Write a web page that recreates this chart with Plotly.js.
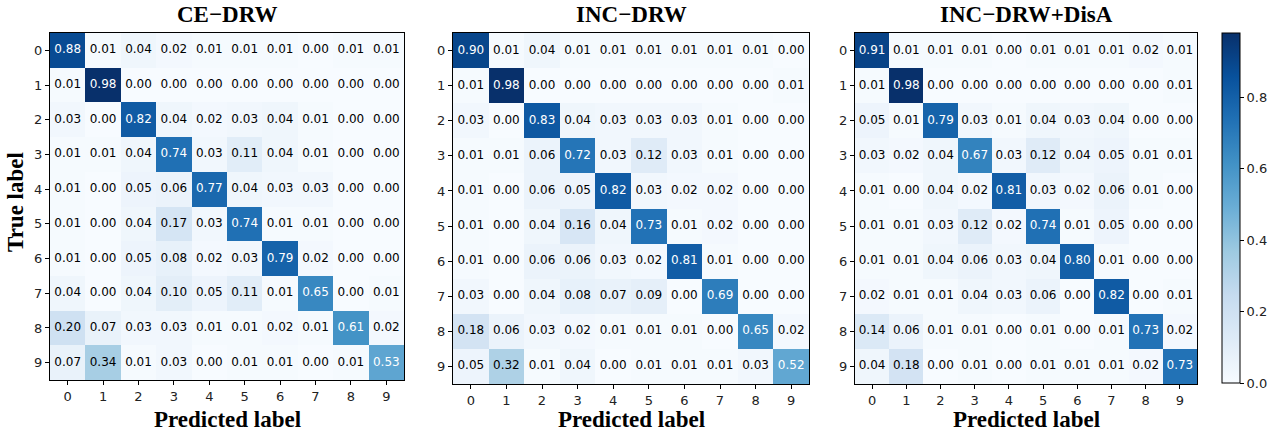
<!DOCTYPE html>
<html>
<head>
<meta charset="utf-8">
<script src="https://cdn.plot.ly/plotly-3.0.1.min.js"></script>
<style>html,body{margin:0;padding:0;background:#fff;}#chart{width:1278px;height:432px;}</style>
</head>
<body>
<div id="chart"></div>
<script>
const classLabels = ['0','1','2','3','4','5','6','7','8','9'];
const panelTitles = ['CE\u2212DRW', 'INC\u2212DRW', 'INC\u2212DRW+DisA'];

const ceDrw = [
  [0.88,0.01,0.04,0.02,0.01,0.01,0.01,0.00,0.01,0.01],
  [0.01,0.98,0.00,0.00,0.00,0.00,0.00,0.00,0.00,0.00],
  [0.03,0.00,0.82,0.04,0.02,0.03,0.04,0.01,0.00,0.00],
  [0.01,0.01,0.04,0.74,0.03,0.11,0.04,0.01,0.00,0.00],
  [0.01,0.00,0.05,0.06,0.77,0.04,0.03,0.03,0.00,0.00],
  [0.01,0.00,0.04,0.17,0.03,0.74,0.01,0.01,0.00,0.00],
  [0.01,0.00,0.05,0.08,0.02,0.03,0.79,0.02,0.00,0.00],
  [0.04,0.00,0.04,0.10,0.05,0.11,0.01,0.65,0.00,0.01],
  [0.20,0.07,0.03,0.03,0.01,0.01,0.02,0.01,0.61,0.02],
  [0.07,0.34,0.01,0.03,0.00,0.01,0.01,0.00,0.01,0.53]
];
const incDrw = [
  [0.90,0.01,0.04,0.01,0.01,0.01,0.01,0.01,0.01,0.00],
  [0.01,0.98,0.00,0.00,0.00,0.00,0.00,0.00,0.00,0.01],
  [0.03,0.00,0.83,0.04,0.03,0.03,0.03,0.01,0.00,0.00],
  [0.01,0.01,0.06,0.72,0.03,0.12,0.03,0.01,0.00,0.00],
  [0.01,0.00,0.06,0.05,0.82,0.03,0.02,0.02,0.00,0.00],
  [0.01,0.00,0.04,0.16,0.04,0.73,0.01,0.02,0.00,0.00],
  [0.01,0.00,0.06,0.06,0.03,0.02,0.81,0.01,0.00,0.00],
  [0.03,0.00,0.04,0.08,0.07,0.09,0.00,0.69,0.00,0.00],
  [0.18,0.06,0.03,0.02,0.01,0.01,0.01,0.00,0.65,0.02],
  [0.05,0.32,0.01,0.04,0.00,0.01,0.01,0.01,0.03,0.52]
];
const incDrwDisA = [
  [0.91,0.01,0.01,0.01,0.00,0.01,0.01,0.01,0.02,0.01],
  [0.01,0.98,0.00,0.00,0.00,0.00,0.00,0.00,0.00,0.01],
  [0.05,0.01,0.79,0.03,0.01,0.04,0.03,0.04,0.00,0.00],
  [0.03,0.02,0.04,0.67,0.03,0.12,0.04,0.05,0.01,0.01],
  [0.01,0.00,0.04,0.02,0.81,0.03,0.02,0.06,0.01,0.00],
  [0.01,0.01,0.03,0.12,0.02,0.74,0.01,0.05,0.00,0.00],
  [0.01,0.01,0.04,0.06,0.03,0.04,0.80,0.01,0.00,0.00],
  [0.02,0.01,0.01,0.04,0.03,0.06,0.00,0.82,0.00,0.01],
  [0.14,0.06,0.01,0.01,0.00,0.01,0.00,0.01,0.73,0.02],
  [0.04,0.18,0.00,0.01,0.00,0.01,0.01,0.01,0.02,0.73]
];
const matrices = [ceDrw, incDrw, incDrwDisA];

const W = 1278, H = 432;
const blues = [
  [0.0,'#f7fbff'],[0.125,'#deebf7'],[0.25,'#c6dbef'],[0.375,'#9ecae1'],
  [0.5,'#6baed6'],[0.625,'#4292c6'],[0.75,'#2171b5'],[0.875,'#08519c'],[1.0,'#08306b']
];
const zMax = 0.98;
// pixel boxes [left,right,top,bottom]
const boxes = [[50,404,33,380],[453,809,33,384],[855,1197,33,384]];

const traces = [];
const layout = {
  width: W, height: H,
  margin: {l:0, r:0, t:0, b:0},
  paper_bgcolor: '#fff', plot_bgcolor: '#fff',
  showlegend: false,
  font: {family: 'DejaVu Sans', size: 12, color: '#000'},
  annotations: []
};
const serif = 'Liberation Serif, Times New Roman, serif';
const tickFont = {family: 'DejaVu Sans', size: 13, color: '#222'};

matrices.forEach((m, k) => {
  const sfx = k === 0 ? '' : String(k + 1);
  const xa = 'x' + sfx, ya = 'y' + sfx;
  const b = boxes[k];
  traces.push({
    type: 'heatmap', z: m, x: classLabels.map(Number), y: classLabels.map(Number),
    xaxis: xa, yaxis: ya, colorscale: blues, zmin: 0, zmax: zMax,
    showscale: k === 2, hoverinfo: 'skip',
    colorbar: {
      x: 1222 / W, xanchor: 'left', xpad: 0, ypad: 0,
      y: 1 - (33 + 383) / 2 / H, yanchor: 'middle',
      len: 350 / H, lenmode: 'fraction', thickness: 18, thicknessmode: 'pixels',
      outlinewidth: 1, outlinecolor: '#000',
      tickvals: [0, 0.2, 0.4, 0.6, 0.8], tickformat: '.1f',
      ticks: 'outside', ticklen: 4, tickcolor: '#000',
      tickfont: tickFont
    }
  });
  const xs = [], ys = [], txt = [], cols = [];
  m.forEach((row, i) => row.forEach((v, j) => {
    xs.push(j); ys.push(i); txt.push(v.toFixed(2));
    cols.push(v > zMax / 2 ? '#ffffff' : '#000000');
  }));
  traces.push({
    type: 'scatter', mode: 'text', x: xs, y: ys, text: txt,
    textposition: 'middle center', xaxis: xa, yaxis: ya, hoverinfo: 'skip',
    textfont: {family: 'DejaVu Sans', size: 12, color: cols}
  });
  const axCommon = {
    showline: true, linecolor: '#000', linewidth: 1, mirror: true,
    ticks: 'outside', ticklen: 4, tickcolor: '#000', showgrid: false, zeroline: false,
    tickvals: classLabels.map(Number), ticktext: classLabels,
    tickfont: tickFont,
    automargin: false, fixedrange: true
  };
  layout['xaxis' + sfx] = Object.assign({}, axCommon, {
    domain: [b[0] / W, b[1] / W], range: [-0.5, 9.5], anchor: ya
  });
  layout['yaxis' + sfx] = Object.assign({}, axCommon, {
    domain: [1 - b[3] / H, 1 - b[2] / H], range: [9.5, -0.5], anchor: xa
  });
  layout.annotations.push({
    text: '<b>' + panelTitles[k] + '</b>', xref: 'paper', yref: 'paper',
    x: (b[0] + b[1]) / 2 / W, y: 1 - 15 / H, xanchor: 'center', yanchor: 'middle',
    showarrow: false, font: {family: serif, size: 23, color: '#000'}
  });
  layout.annotations.push({
    text: '<b>Predicted label</b>', xref: 'paper', yref: 'paper',
    x: (b[0] + b[1]) / 2 / W, y: 1 - 419 / H, xanchor: 'center', yanchor: 'middle',
    showarrow: false, font: {family: serif, size: 23, color: '#000'}
  });
});
layout.annotations.push({
  text: '<b>True label</b>', xref: 'paper', yref: 'paper',
  x: 15 / W, y: 1 - 202 / H, xanchor: 'center', yanchor: 'middle', textangle: -90,
  showarrow: false, font: {family: serif, size: 23, color: '#000'}
});

Plotly.newPlot('chart', traces, layout, {displayModeBar: false, staticPlot: true});
</script>
</body>
</html>
